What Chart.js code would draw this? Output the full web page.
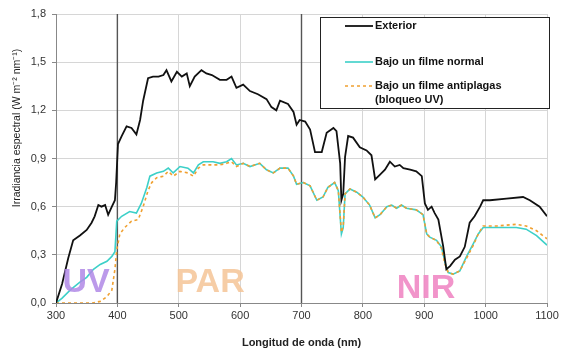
<!DOCTYPE html>
<html>
<head>
<meta charset="utf-8">
<script src="https://cdn.jsdelivr.net/npm/chart.js@4/dist/chart.umd.min.js"></script>
<style>
  html, body { margin: 0; padding: 0; background: #fff; }
  #wrap { width: 565px; height: 356px; }
</style>
</head>
<body>
<div id="wrap"><canvas id="SpectrumChart" width="565" height="356"></canvas></div>
<script>
// wavelengths (nm) and irradiance values
var wlExterior = [300, 310, 320, 328, 339, 350, 358, 363, 369, 374, 380, 385, 391, 396, 398, 401, 407, 415, 423, 431, 437, 442, 450, 458, 467, 475, 480, 488, 497, 505, 513, 518, 526, 537, 545, 554, 567, 578, 586, 594, 605, 616, 629, 643, 651, 659, 665, 678, 687, 692, 697, 706, 714, 722, 733, 741, 752, 757, 763, 765, 768, 771, 776, 784, 795, 806, 814, 820, 828, 836, 844, 852, 860, 866, 877, 887, 896, 901, 906, 912, 917, 923, 931, 936, 942, 950, 958, 966, 974, 982, 991, 996, 1007, 1034, 1061, 1072, 1088, 1100];
var exterior = [0.00, 0.12, 0.28, 0.39, 0.42, 0.455, 0.50, 0.54, 0.61, 0.60, 0.61, 0.55, 0.60, 0.64, 0.75, 0.99, 1.04, 1.10, 1.09, 1.05, 1.14, 1.26, 1.40, 1.41, 1.41, 1.42, 1.45, 1.38, 1.44, 1.41, 1.43, 1.35, 1.41, 1.45, 1.43, 1.42, 1.39, 1.39, 1.41, 1.34, 1.36, 1.32, 1.30, 1.27, 1.22, 1.20, 1.26, 1.24, 1.19, 1.11, 1.14, 1.13, 1.08, 0.94, 0.94, 1.06, 1.09, 1.07, 0.87, 0.64, 0.68, 0.91, 1.04, 1.03, 0.97, 0.95, 0.92, 0.77, 0.80, 0.83, 0.88, 0.85, 0.86, 0.84, 0.83, 0.82, 0.79, 0.62, 0.58, 0.60, 0.56, 0.52, 0.35, 0.21, 0.23, 0.27, 0.29, 0.35, 0.50, 0.54, 0.60, 0.64, 0.64, 0.65, 0.66, 0.64, 0.60, 0.54];

var wlNormal = [300, 310, 323, 339, 350, 361, 372, 383, 391, 396, 399, 407, 420, 431, 439, 448, 453, 464, 475, 483, 491, 502, 515, 524, 532, 540, 556, 567, 578, 586, 594, 605, 616, 632, 643, 654, 665, 678, 687, 692, 703, 714, 725, 735, 743, 754, 760, 765, 768, 771, 779, 790, 800, 811, 820, 828, 839, 847, 855, 863, 871, 887, 898, 904, 909, 920, 928, 934, 939, 947, 958, 969, 980, 988, 996, 1018, 1050, 1066, 1083, 1100];
var normal = [0.00, 0.03, 0.08, 0.13, 0.16, 0.21, 0.24, 0.26, 0.29, 0.32, 0.51, 0.54, 0.57, 0.56, 0.62, 0.72, 0.79, 0.81, 0.82, 0.84, 0.81, 0.85, 0.84, 0.81, 0.86, 0.88, 0.88, 0.87, 0.88, 0.90, 0.86, 0.87, 0.85, 0.87, 0.83, 0.81, 0.84, 0.84, 0.79, 0.74, 0.75, 0.73, 0.64, 0.66, 0.72, 0.75, 0.70, 0.43, 0.47, 0.68, 0.71, 0.69, 0.66, 0.61, 0.53, 0.55, 0.60, 0.61, 0.59, 0.61, 0.59, 0.58, 0.55, 0.43, 0.41, 0.39, 0.35, 0.25, 0.19, 0.18, 0.20, 0.29, 0.37, 0.43, 0.47, 0.47, 0.47, 0.46, 0.42, 0.36];

var wlAnti = [300, 330, 360, 372, 383, 391, 396, 399, 404, 412, 423, 434, 442, 450, 456, 464, 475, 483, 491, 502, 515, 524, 532, 540, 556, 567, 578, 586, 594, 605, 616, 632, 643, 654, 665, 678, 687, 692, 703, 714, 725, 735, 743, 754, 760, 765, 768, 771, 779, 790, 800, 811, 820, 828, 839, 847, 855, 863, 871, 887, 898, 904, 909, 920, 928, 934, 939, 947, 958, 969, 980, 988, 996, 1018, 1050, 1066, 1083, 1100];
var antiplagas = [0.00, 0.00, 0.00, 0.01, 0.04, 0.08, 0.21, 0.33, 0.43, 0.47, 0.51, 0.52, 0.60, 0.70, 0.75, 0.78, 0.79, 0.82, 0.79, 0.82, 0.81, 0.79, 0.84, 0.86, 0.86, 0.86, 0.87, 0.88, 0.85, 0.87, 0.85, 0.87, 0.83, 0.81, 0.84, 0.84, 0.79, 0.74, 0.75, 0.73, 0.64, 0.66, 0.72, 0.75, 0.70, 0.44, 0.48, 0.68, 0.71, 0.69, 0.66, 0.61, 0.53, 0.55, 0.60, 0.61, 0.59, 0.61, 0.59, 0.58, 0.55, 0.43, 0.41, 0.39, 0.34, 0.24, 0.19, 0.18, 0.20, 0.28, 0.36, 0.43, 0.48, 0.48, 0.49, 0.48, 0.45, 0.40];

var seriesNames = ['Exterior', 'Bajo un filme normal', 'Bajo un filme antiplagas (bloqueo UV)'];
var bandLimits = [400, 700];          // vertical separators
var bandNames = ['UV', 'PAR', 'NIR'];
var bandCenters = [349, 551, 903];     // nm
var yRange = [0, 1.8];
var xRange = [300, 1100];

function toPoints(xs, ys) {
    return xs.map(function (x, i) { return { x: x, y: ys[i] }; });
}

var FONT = "'Liberation Sans', Arial, sans-serif";

var bandsAndLegend = {
    id: 'bandsAndLegend',
    afterDatasetsDraw: function (chart) {
        var ctx = chart.ctx, xs = chart.scales.x, ys = chart.scales.y;
        ctx.save();
        // UV / PAR / NIR labels
        var bandColors = ['rgba(176,136,230,0.85)', 'rgba(245,196,150,0.85)', 'rgba(240,136,196,0.9)'];
        var bandBase = [0.07, 0.07, 0.03];
        ctx.font = 'bold 34px ' + FONT;
        ctx.textAlign = 'center';
        ctx.textBaseline = 'alphabetic';
        bandNames.forEach(function (t, i) {
            ctx.fillStyle = bandColors[i];
            ctx.fillText(t, xs.getPixelForValue(bandCenters[i]), ys.getPixelForValue(bandBase[i]));
        });

        // legend box
        var L = 320, T = 17, R = 549, B = 108;
        ctx.fillStyle = '#fff';
        ctx.fillRect(L, T, R - L, B - T);
        ctx.strokeStyle = '#222';
        ctx.lineWidth = 1;
        ctx.strokeRect(L + 0.5, T + 0.5, R - L, B - T);

        var rows = [26, 62, 86];
        ctx.font = 'bold 11px ' + FONT;
        ctx.textAlign = 'left';
        ctx.textBaseline = 'middle';
        chart.data.datasets.slice(0, 3).forEach(function (ds, i) {
            ctx.beginPath();
            ctx.strokeStyle = ds.borderColor;
            ctx.lineWidth = ds.borderWidth;
            ctx.setLineDash(ds.borderDash || []);
            ctx.moveTo(345, rows[i]);
            ctx.lineTo(373, rows[i]);
            ctx.stroke();
            ctx.setLineDash([]);
            ctx.fillStyle = '#111';
            if (i === 2) {
                ctx.fillText('Bajo un filme antiplagas', 375, rows[i]);
                ctx.fillText('(bloqueo UV)', 375, rows[i] + 14);
            } else {
                ctx.fillText(ds.label, 375, rows[i]);
            }
        });

        // y axis title
        ctx.save();
        ctx.translate(17, 128);
        ctx.rotate(-Math.PI / 2);
        ctx.textAlign = 'center';
        ctx.font = '10.5px ' + FONT;
        ctx.fillStyle = '#222';
        ctx.fillText('Irradiancia espectral (W m\u207B\u00B2 nm\u207B\u00B9)', 0, 0);
        ctx.restore();
        ctx.restore();
    }
};

var datasets = [
    {
        label: seriesNames[0],
        data: toPoints(wlExterior, exterior),
        borderColor: '#111111',
        borderWidth: 1.8,
        order: 1
    },
    {
        label: seriesNames[1],
        data: toPoints(wlNormal, normal),
        borderColor: '#3cd0c8',
        borderWidth: 1.6,
        order: 3
    },
    {
        label: seriesNames[2],
        data: toPoints(wlAnti, antiplagas),
        borderColor: '#f0a030',
        borderWidth: 1.6,
        borderDash: [3, 3],
        order: 2
    }
];
bandLimits.forEach(function (b) {
    datasets.push({
        label: 'limit ' + b,
        data: [{ x: b, y: yRange[0] }, { x: b, y: yRange[1] }],
        borderColor: '#555555',
        borderWidth: 1.4,
        order: 4
    });
});

new Chart(document.getElementById('SpectrumChart').getContext('2d'), {
    type: 'line',
    data: { datasets: datasets },
    options: {
        responsive: false,
        animation: false,
        devicePixelRatio: 1,
        layout: { padding: { left: 0, right: 18, top: 14, bottom: 0 } },
        elements: { point: { radius: 0 }, line: { tension: 0, fill: false } },
        plugins: { legend: { display: false }, tooltip: { enabled: false } },
        scales: {
            x: {
                type: 'linear',
                min: xRange[0],
                max: xRange[1],
                afterFit: function (s) { s.height = 53; },
                ticks: {
                    stepSize: 100,
                    padding: 2,
                    color: '#333',
                    font: { family: FONT, size: 11 },
                    callback: function (v) { return String(v); }
                },
                grid: { color: '#d6d6d6', tickLength: 4, tickColor: '#888' },
                border: { color: '#888' },
                title: {
                    display: true,
                    text: 'Longitud de onda (nm)',
                    color: '#222',
                    font: { family: FONT, size: 11, weight: 'bold' },
                    padding: { top: 0, bottom: 6 }
                }
            },
            y: {
                min: yRange[0],
                max: yRange[1],
                afterFit: function (s) { s.width = 56; },
                ticks: {
                    stepSize: 0.3,
                    padding: 6,
                    color: '#333',
                    font: { family: FONT, size: 11 },
                    callback: function (v) { return v.toFixed(1).replace('.', ','); }
                },
                grid: { color: '#d6d6d6', tickLength: 4, tickColor: '#888' },
                border: { color: '#888' }
            }
        }
    },
    plugins: [bandsAndLegend]
});
</script>
</body>
</html>
